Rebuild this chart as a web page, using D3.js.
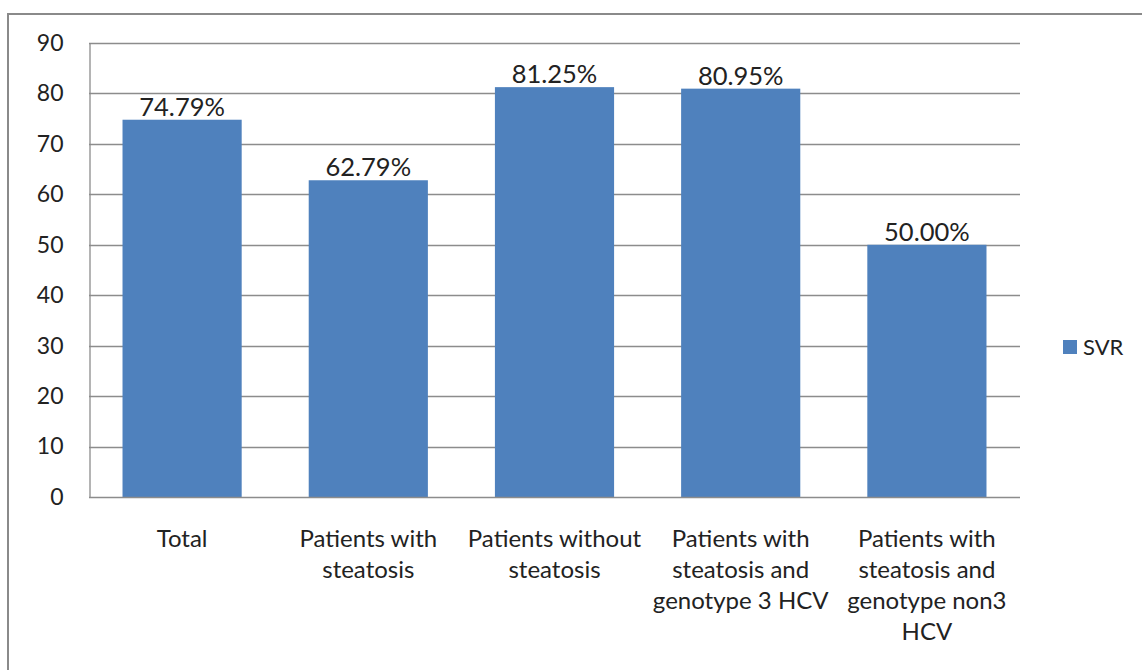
<!DOCTYPE html>
<html>
<head>
<meta charset="utf-8">
<script src="https://cdn.jsdelivr.net/npm/d3@7"></script>
<style>
  html, body { margin: 0; padding: 0; background: #fff; }
  svg { display: block; }
  text { font-family: Lato, "Open Sans", sans-serif; fill: #222; }
</style>
</head>
<body>
<svg id="chart" width="1142" height="670"></svg>
<script>
// SVR rate by patient group
const categories = [
  ["Total"],
  ["Patients with", "steatosis"],
  ["Patients without", "steatosis"],
  ["Patients with", "steatosis and", "genotype 3 HCV"],
  ["Patients with", "steatosis and", "genotype non3", "HCV"]
];
const svrValues = [74.79, 62.79, 81.25, 80.95, 50.00];
const yTicks = [0, 10, 20, 30, 40, 50, 60, 70, 80, 90];
const seriesName = "SVR";

const svg = d3.select("#chart");
const W = 1142, H = 670;
const plot = { left: 89, right: 1020, top: 43, bottom: 497 };
const barColor = "#4F81BD";

// outer frame (runs off the right and bottom edges)
svg.append("rect")
  .attr("x", 8).attr("y", 14)
  .attr("width", W + 10).attr("height", H + 10)
  .attr("fill", "none").attr("stroke", "#8a8a8a").attr("stroke-width", 2);

const x = d3.scaleBand()
  .domain(d3.range(categories.length))
  .range([plot.left, plot.right])
  .paddingInner(0.36).paddingOuter(0.18);

const y = d3.scaleLinear().domain([0, 90]).range([plot.bottom, plot.top]);

// gridlines
svg.append("g").selectAll("line").data(yTicks.filter(d => d > 0)).join("line")
  .attr("x1", plot.left).attr("x2", plot.right)
  .attr("y1", d => Math.round(y(d)) + 0.5).attr("y2", d => Math.round(y(d)) + 0.5)
  .attr("stroke", "#8c8c8c").attr("stroke-width", 1.3);

// y axis
const yAxis = svg.append("g")
  .attr("transform", `translate(${plot.left + 0.5},0)`)
  .call(d3.axisLeft(y).tickValues(yTicks).tickSize(0).tickPadding(26).tickFormat(d3.format("d")));
yAxis.select(".domain").attr("stroke", "#8c8c8c").attr("stroke-width", 1.3);
yAxis.selectAll("text").attr("font-size", 23).style("font-family", "Lato, 'Open Sans', sans-serif").attr("fill", "#222");

// bars
svg.append("g").selectAll("rect").data(svrValues).join("rect")
  .attr("x", (d, i) => x(i))
  .attr("width", x.bandwidth())
  .attr("y", d => y(d))
  .attr("height", d => y(0) - y(d))
  .attr("fill", barColor);

// x axis baseline
svg.append("line")
  .attr("x1", plot.left).attr("x2", plot.right)
  .attr("y1", plot.bottom + 0.5).attr("y2", plot.bottom + 0.5)
  .attr("stroke", "#8c8c8c").attr("stroke-width", 1.3);

// value labels
svg.append("g").selectAll("text").data(svrValues).join("text")
  .attr("x", (d, i) => x(i) + x.bandwidth() / 2)
  .attr("y", d => y(d) - 4)
  .attr("text-anchor", "middle")
  .attr("font-size", 25.5)
  .text(d => d3.format(".2f")(d) + "%");

// category labels
const catG = svg.append("g").selectAll("text").data(categories).join("text")
  .attr("x", (d, i) => x(i) + x.bandwidth() / 2)
  .attr("y", 547)
  .attr("text-anchor", "middle")
  .attr("font-size", 24);
catG.selectAll("tspan").data(d => d).join("tspan")
  .attr("x", function () { return d3.select(this.parentNode).attr("x"); })
  .attr("dy", (d, i) => i === 0 ? 0 : 31)
  .text(d => d);

// legend
const leg = svg.append("g").attr("transform", "translate(1063,340)");
leg.append("rect").attr("width", 14).attr("height", 14).attr("fill", barColor);
leg.append("text").attr("x", 20).attr("y", 14.5).attr("font-size", 22).text(seriesName);
</script>
</body>
</html>
